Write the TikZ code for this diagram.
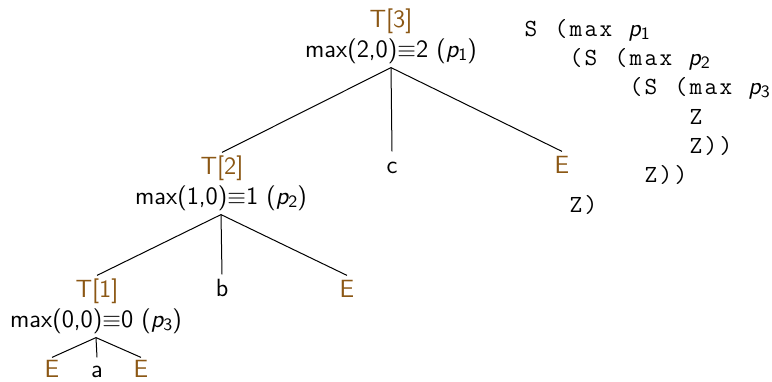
\documentclass[tikz,border=0pt]{standalone}
\usepackage{fontspec}
\definecolor{brn}{RGB}{139,87,20}
\newcommand\pp[1]{{\sffamily\itshape p}\raisebox{-1.6pt}{\sffamily\fontsize{8.7}{9}\selectfont #1}}
\newcommand\eqv{$\equiv$}
\newcommand\mono[1]{\monoA#1\relax}
\def\monoA#1{\ifx\relax#1\else\makebox[7.5pt]{#1}\expandafter\monoA\fi}
\tikzset{
  tn/.style={font=\fontsize{12.45}{14}\sffamily, inner sep=2pt, text height=8.6pt, text depth=3.1pt, anchor=base},
  br/.style={tn, text=brn},
  leaf/.style={text depth=0pt},
  code/.style={font=\fontsize{12.3}{14}\ttfamily, inner sep=0pt, anchor=base west},
  edge/.style={line width=0.5pt}
}
\begin{document}
\begin{tikzpicture}[x=0.5pt,y=-0.5pt]
\useasboundingbox (0,0) rectangle (772,381);
% tree nodes
\node[br] (t3) at (391,27) {T[3]};
\node[tn] (m3) at (391,57) {max(2,0)\eqv2 (\pp{1})};
\node[br] (t2) at (222,174) {T[2]};
\node[tn] (c) at (392,173) {c};
\node[br] (e3) at (562,173) {E};
\node[tn] (m2) at (221,204) {max(1,0)\eqv1 (\pp{2})};
\node[br] (t1) at (97,297) {T[1]};
\node[tn] (b) at (222,296) {b};
\node[br] (e2) at (347,297) {E};
\node[tn] (m1) at (96,327) {max(0,0)\eqv0 (\pp{3})};
\node[br,leaf,inner sep=1pt] (e0) at (52,377) {E};
\node[tn,leaf,inner sep=1pt] (a) at (97,377) {a};
\node[br,leaf,inner sep=1pt] (e1) at (141,377) {E};
% connectors
\draw[edge] (m3.south) -- (t2.north);
\draw[edge] (m3.south) -- (c.north);
\draw[edge] (m3.south) -- (e3.north);
\draw[edge] (m2.south) -- (t1.north);
\draw[edge] (m2.south) -- (b.north);
\draw[edge] (m2.south) -- (e2.north);
\draw[edge] (m1.south) -- (e0.north);
\draw[edge] (m1.south) -- (a.north);
\draw[edge] (m1.south) -- (e1.north);
% code listing
\node[code] (l1) at (523,36) {\mono{S~(max~}\pp{1}};
\node[code] (l2) at (568,65.3) {\mono{(S~(max~}\pp{2}};
\node[code] (l3) at (628,94.7) {\mono{(S~(max~}\pp{3}};
\node[code] (l4) at (688,124) {\mono{Z}};
\node[code] (l5) at (688,153.3) {\mono{Z))}};
\node[code] (l6) at (643,182.7) {\mono{Z))}};
\node[code] (l7) at (568,212) {\mono{Z)}};
\end{tikzpicture}
\end{document}
